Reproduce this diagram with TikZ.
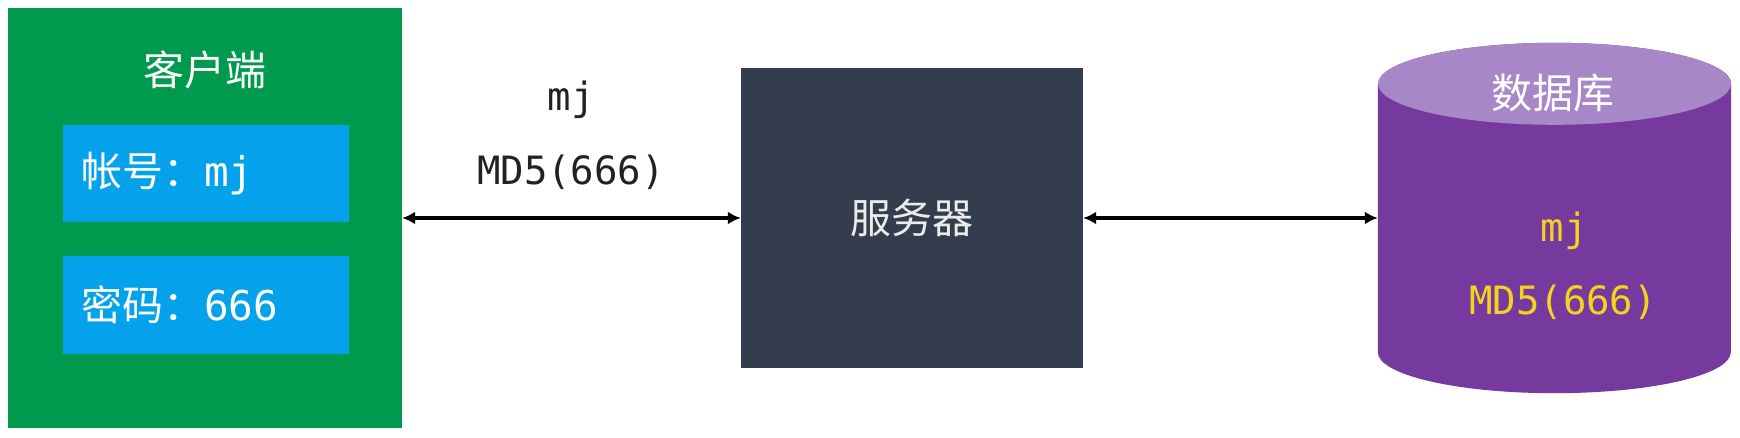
\documentclass[tikz,border=0pt]{standalone}
\usepackage{fontspec}
\setmainfont{Noto Sans CJK SC}
\setmonofont{DejaVu Sans Mono}
\usetikzlibrary{positioning, arrows.meta, calc}

\definecolor{clientgreen}{HTML}{009A4E}
\definecolor{fieldblue}{HTML}{03A2EA}
\definecolor{serverdark}{HTML}{343D4E}
\definecolor{dbbody}{HTML}{763A9F}
\definecolor{dbtop}{HTML}{A887C9}
\definecolor{dbtext}{HTML}{F4D21E}
\definecolor{labeltext}{HTML}{222222}

\begin{document}
\begin{tikzpicture}[x=1pt, y=-1pt,
    box/.style={rectangle, inner sep=0pt},
    field/.style={box, fill=fieldblue, text=white, minimum height=97pt,
        text width=250pt, inner xsep=18pt, align=left,
        font=\fontsize{41}{48}\selectfont},
    cn/.style={font=\fontsize{41}{48}\selectfont},
    code/.style={font=\fontsize{39}{46}\selectfont\ttfamily},
    link/.style={line width=3.5pt, {Latex[length=13pt,width=13pt]}-{Latex[length=13pt,width=13pt]}}]

    % Canvas with the reference's margins
    \useasboundingbox[fill=white] (0,0) rectangle (1740,438);

    % Client with its two input fields
    \node[box, fill=clientgreen, minimum width=394pt, minimum height=420pt] (client) at (205,218) {};
    \node[cn, text=white] (clientname) at (205,70) {客户端};
    \node[field] (acct) at (206,173.5) {帐号：\texttt{mj}};
    \node[field] (pwd) at (206,305) {密码：\texttt{666}};

    % Server
    \node[box, fill=serverdark, minimum width=342pt, minimum height=300pt,
        cn, text=white!92!black] (server) at (912,218) {服务器};

    % Database drawn as a cylinder round the node
    \node[box, minimum width=353pt, minimum height=268pt] (db) at (1554.5,218) {};
    \fill[dbbody] (db.north west) -- (db.south west)
        arc[start angle=180, end angle=360, x radius=176.5pt, y radius=41pt]
        -- (db.north east)
        arc[start angle=0, end angle=180, x radius=176.5pt, y radius=41pt] -- cycle;
    \fill[dbtop] (db.north) ellipse[x radius=176.5pt, y radius=41pt];
    \node[cn, text=white] (dbname) at (1553,93) {数据库};
    \node[code, text=dbtext] (dbuser) at (1564,231) {mj};
    \node[code, text=dbtext] (dbhash) at (1563,302) {MD5(666)};

    % Connections
    \draw[link] (client.east) -- (server.west);
    \draw[link] (server.east) -- (db.west);

    % What travels between client and server
    \node[code, text=labeltext] (sentuser) at (571,100) {mj};
    \node[code, text=labeltext] (senthash) at (571,172) {MD5(666)};
\end{tikzpicture}
\end{document}
